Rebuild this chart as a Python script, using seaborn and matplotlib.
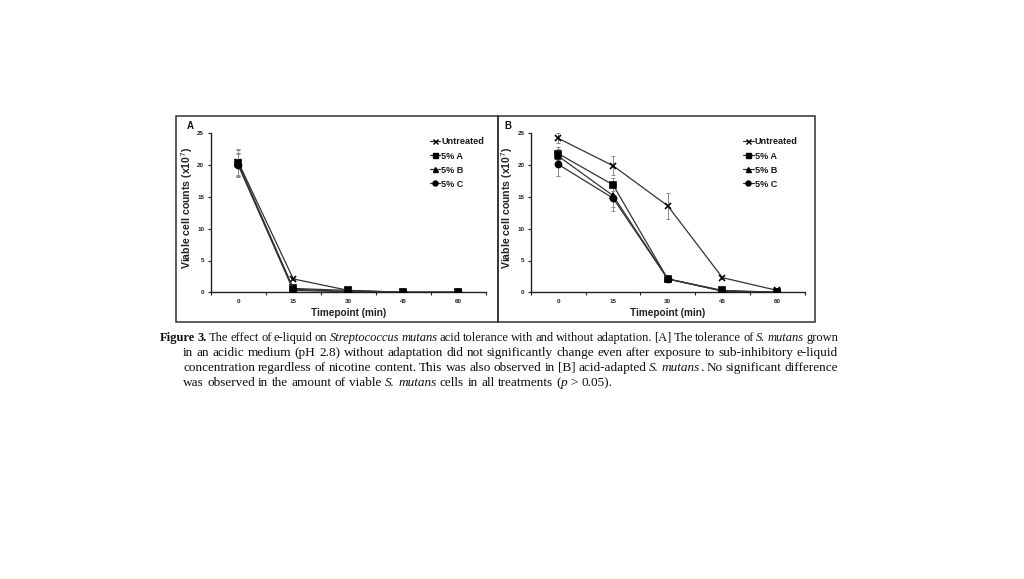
import matplotlib
matplotlib.use("Agg")
import matplotlib.pyplot as plt
import seaborn as sns
import numpy as np
import pandas as pd
from matplotlib.patches import Rectangle
from matplotlib.lines import Line2D

# ---------------- data ----------------
timepoints = ["0", "15", "30", "45", "60"]
series = ["Untreated", "5% A", "5% B", "5% C"]

a_untreated = [20.5, 2.1, 0.3, 0.0, 0.0]
a_5a = [20.3, 0.6, 0.3, 0.0, 0.0]
a_5b = [20.1, 0.5, 0.1, 0.0, 0.0]
a_5c = [20.0, 0.3, 0.1, 0.0, 0.0]
a_err_untreated = [2.0, 0.2, 0.1, 0.0, 0.0]
a_err_5a = [2.0, 0.1, 0.1, 0.0, 0.0]
a_err_5b = [1.8, 0.1, 0.1, 0.0, 0.0]
a_err_5c = [1.8, 0.1, 0.1, 0.0, 0.0]

b_untreated = [24.2, 19.9, 13.6, 2.3, 0.3]
b_5a = [21.8, 16.9, 2.1, 0.3, 0.0]
b_5b = [21.4, 15.2, 2.1, 0.2, 0.0]
b_5c = [20.1, 14.8, 2.1, 0.2, 0.0]
b_err_untreated = [0.8, 1.5, 2.0, 0.2, 0.1]
b_err_5a = [1.0, 1.0, 0.2, 0.1, 0.0]
b_err_5b = [1.2, 1.8, 0.2, 0.1, 0.0]
b_err_5c = [1.8, 2.0, 0.2, 0.1, 0.0]

panel_a = {"Untreated": (a_untreated, a_err_untreated), "5% A": (a_5a, a_err_5a),
           "5% B": (a_5b, a_err_5b), "5% C": (a_5c, a_err_5c)}
panel_b = {"Untreated": (b_untreated, b_err_untreated), "5% A": (b_5a, b_err_5a),
           "5% B": (b_5b, b_err_5b), "5% C": (b_5c, b_err_5c)}

markers = {"Untreated": "x", "5% A": "s", "5% B": "^", "5% C": "o"}
msizes = {"Untreated": 4.8, "5% A": 4.6, "5% B": 4.4, "5% C": 4.4}

sns.set_theme(style="white")
plt.rcParams["font.family"] = ["Liberation Sans", "DejaVu Sans"]

W, H = 1024, 579
fig = plt.figure(figsize=(W / 100, H / 100), dpi=100)


def fx(px):
    return px / W


def fy(py):
    return 1 - py / H


# panel frames
for (x0, x1) in [(176, 497.5), (497.5, 815)]:
    fig.patches.append(Rectangle((fx(x0), fy(322.3)), fx(x1 - x0), (322.3 - 116) / H,
                                 transform=fig.transFigure, fill=False,
                                 edgecolor="#303030", linewidth=1.1, zorder=0))


def draw_panel(ax_rect, data, letter, letter_pos, legend_pos, ylab_x):
    ax = fig.add_axes(ax_rect)
    for s in series:
        vals, errs = data[s]
        df = pd.DataFrame({"Timepoint": np.arange(len(timepoints)), "value": vals})
        ax.errorbar(np.arange(len(timepoints)), vals, yerr=errs, fmt="none",
                    ecolor="#8a8a8a", elinewidth=0.7, capsize=1.6, capthick=0.7,
                    zorder=2)
        sns.lineplot(data=df, x="Timepoint", y="value", color="#333333",
                     marker=markers[s], linewidth=0.9, markersize=msizes[s],
                     markeredgecolor="black", markerfacecolor="black",
                     markeredgewidth=1.2, ax=ax, zorder=3)
    handles = [Line2D([0], [0], color="#333333", lw=0.9, marker=markers[s],
                      markersize=3.6, markerfacecolor="black", markeredgecolor="black",
                      markeredgewidth=1.0) for s in series]
    leg = ax.legend(handles, series, loc="upper left",
                    bbox_to_anchor=legend_pos, bbox_transform=fig.transFigure,
                    frameon=False, fontsize=6.6, handlelength=1.15, handletextpad=0.15,
                    labelspacing=0.55, borderpad=0, borderaxespad=0)
    for t in leg.get_texts():
        t.set_fontweight("bold")
        t.set_color("#1a1a1a")

    ax.set_xlim(-0.5, 4.5)
    ax.set_ylim(0, 25)
    ax.set_yticks([0, 5, 10, 15, 20, 25])
    ax.set_yticklabels(["0", "5", "10", "15", "20", "25"])
    ax.set_xticks(np.arange(len(timepoints)))
    ax.set_xticklabels(timepoints)
    ax.set_xticks(np.arange(-0.5, 4.6, 1.0), minor=True)
    ax.tick_params(axis="x", which="major", length=0, pad=5, labelsize=4.5)
    ax.tick_params(axis="x", which="minor", length=2.2, width=0.8, direction="out",
                   color="#222222", bottom=True)
    ax.tick_params(axis="y", which="major", length=2.2, width=0.8, direction="out",
                   color="#222222", left=True, pad=2.5, labelsize=4.5)
    for lbl in ax.get_xticklabels() + ax.get_yticklabels():
        lbl.set_fontweight("bold")
        lbl.set_color("#222222")
    for sp in ["top", "right"]:
        ax.spines[sp].set_visible(False)
    for sp in ["left", "bottom"]:
        ax.spines[sp].set_color("#222222")
        ax.spines[sp].set_linewidth(1.0)
    ax.set_facecolor("none")
    ax.grid(False)
    ax.set_xlabel("Timepoint (min)", fontsize=7.2, fontweight="bold", color="#222222")
    ax.set_ylabel("Viable cell counts (x10$^{7}$)", fontsize=7.6, fontweight="bold",
                  color="#222222")
    ax.xaxis.set_label_coords(0.5, -0.10)
    ax.yaxis.set_label_coords(ylab_x, 0.535)
    fig.text(fx(letter_pos[0]), fy(letter_pos[1]), letter, fontsize=7,
             fontweight="bold", ha="center", va="center", color="#111111")
    return ax


axA = draw_panel([fx(210.7), fy(292.3), fx(486 - 210.7), (292.3 - 133.3) / H],
                 panel_a, "A", (190, 126), (fx(429.5), fy(137.5)), -0.058)
axB = draw_panel([fx(531), fy(292.3), fx(804.5 - 531), (292.3 - 133.3) / H],
                 panel_b, "B", (508, 126), (fx(743), fy(137.5)), -0.059)

# ---------------- caption (justified) ----------------
cap_font = "Liberation Serif"
lines = [
    ([("Figure 3.", "bold"), ("The effect of e-liquid on", "normal"),
      ("Streptococcus mutans", "italic"),
      ("acid tolerance with and without adaptation. [A] The tolerance of", "normal"),
      ("S. mutans", "italic"), ("grown", "normal")], 160, 338, True, 9.0),
    ([("in an acidic medium (pH 2.8) without adaptation did not significantly change even after exposure to sub-inhibitory e-liquid", "normal")], 183, 353, True, 9.5),
    ([("concentration regardless of nicotine content. This was also observed in [B] acid-adapted", "normal"),
      ("S. mutans", "italic"), (".", "normal-attach"), ("No significant difference", "normal")], 183, 368, True, 9.5),
    ([("was observed in the amount of viable", "normal"), ("S. mutans", "italic"),
      ("cells in all treatments (", "normal"), ("p", "italic-attach"), ("> 0.05).", "normal")], 183, 383, False, 9.5),
]
right_edge = 838

renderer = fig.canvas.get_renderer()


def make_words(runs):
    words = []
    for text, style in runs:
        attach = style.endswith("-attach")
        st = style.replace("-attach", "")
        parts = text.split(" ")
        for k, p in enumerate(parts):
            if p == "":
                continue
            words.append((p, st, attach and k == 0))
    return words


def style_kwargs(st):
    if st == "bold":
        return dict(fontweight="bold", fontstyle="normal")
    if st == "italic":
        return dict(fontweight="normal", fontstyle="italic")
    return dict(fontweight="normal", fontstyle="normal")


for runs, x0, yc, justify, cap_size in lines:
    words = make_words(runs)
    groups = []
    for i, (w, st, att) in enumerate(words):
        if att and groups:
            groups[-1].append((w, st))
        elif groups and groups[-1][-1][0].endswith("("):
            groups[-1].append((w, st))
        else:
            groups.append([(w, st)])
    widths = []
    for g in groups:
        gw = []
        for w, st in g:
            t = fig.text(0, 0, w, fontsize=cap_size, family=cap_font, **style_kwargs(st))
            bb = t.get_window_extent(renderer=renderer)
            gw.append(bb.width)
            t.remove()
        widths.append(gw)
    tsp = fig.text(0, 0, "a a", fontsize=cap_size, family=cap_font)
    tsa = fig.text(0, 0, "aa", fontsize=cap_size, family=cap_font)
    space_w = tsp.get_window_extent(renderer=renderer).width - tsa.get_window_extent(renderer=renderer).width
    tsp.remove(); tsa.remove()
    total = sum(sum(gw) for gw in widths)
    n_gaps = len(groups) - 1
    if justify and n_gaps > 0:
        gap = (right_edge - x0 - total) / n_gaps
    else:
        gap = space_w
    x = x0
    for g, gw in zip(groups, widths):
        for (w, st), ww in zip(g, gw):
            fig.text(fx(x), fy(yc), w, fontsize=cap_size, family=cap_font,
                     ha="left", va="center", color="#111111", **style_kwargs(st))
            x += ww
        x += gap

fig.savefig("out.png", dpi=100)
